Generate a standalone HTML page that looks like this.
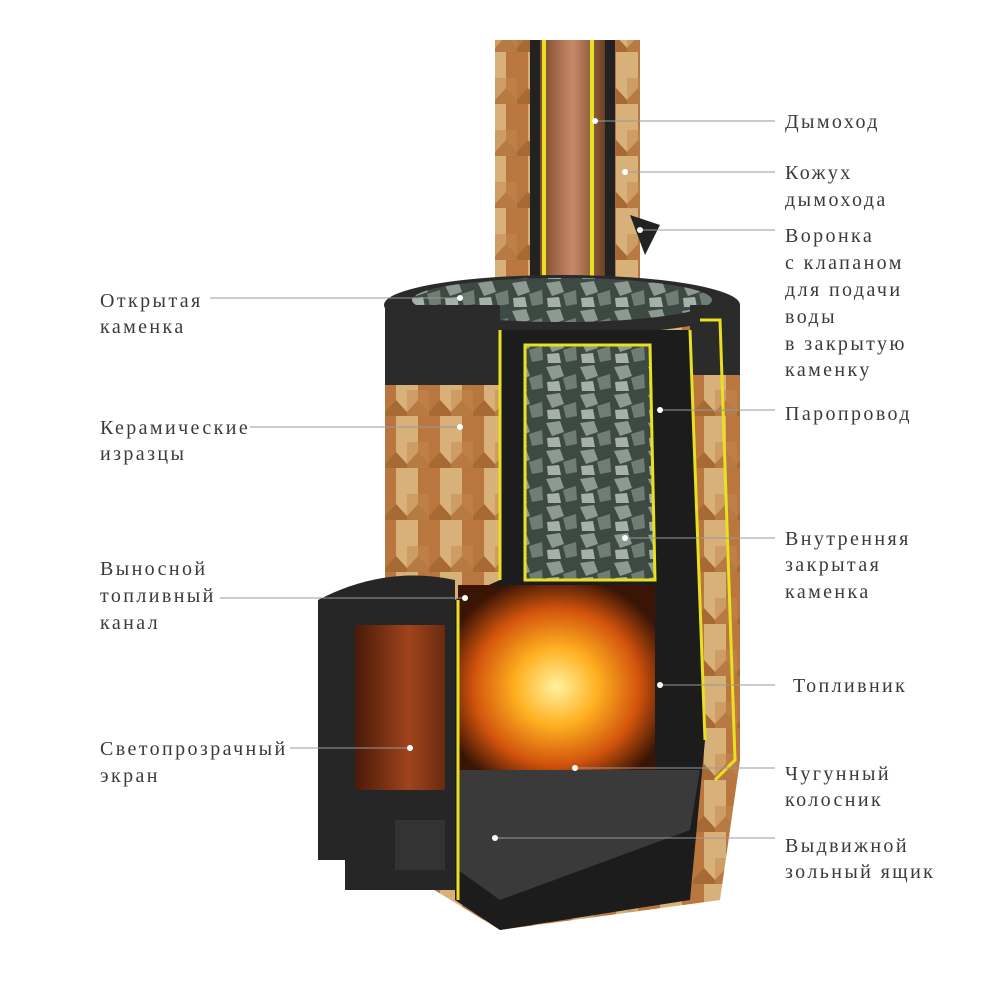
<!DOCTYPE html>
<html><head><meta charset="utf-8"><style>
html,body{margin:0;padding:0;background:#fff;width:1000px;height:1000px;overflow:hidden}
svg{display:block}
text{font-family:"Liberation Serif",serif;font-size:20px;letter-spacing:2.4px;fill:#3a3a3a}
</style></head><body>
<svg width="1000" height="1000" viewBox="0 0 1000 1000">
<defs>
<linearGradient id="chim" x1="0" x2="1"><stop offset="0" stop-color="#7a4a2a"/><stop offset="0.5" stop-color="#c8896a"/><stop offset="1" stop-color="#6b3f22"/></linearGradient>
<radialGradient id="fire" cx="0.5" cy="0.55" r="0.6"><stop offset="0" stop-color="#fff2a0"/><stop offset="0.35" stop-color="#ffb020"/><stop offset="0.7" stop-color="#d2540c"/><stop offset="1" stop-color="#3a1505"/></radialGradient>
<linearGradient id="glass" x1="0" x2="1"><stop offset="0" stop-color="#4a1a0a"/><stop offset="0.6" stop-color="#a0441c"/><stop offset="1" stop-color="#6a2a10"/></linearGradient>
<pattern id="stones" width="34" height="28" patternUnits="userSpaceOnUse"><rect width="34" height="28" fill="#3d4a44"/><path d="M2 3 L16 1 L20 12 L8 16 Z" fill="#8d9a92"/><path d="M19 14 L32 10 L33 24 L22 26 Z" fill="#6f7d75"/><path d="M3 18 L15 17 L17 27 L4 27 Z" fill="#a6b1aa"/></pattern>
<pattern id="scales" width="44" height="52" patternUnits="userSpaceOnUse"><rect width="44" height="52" fill="#a86a35"/><path d="M0 0 L22 0 L22 36 L11 48 L0 36 Z" fill="#d8b07a"/><path d="M22 0 L44 0 L44 36 L33 48 L22 36 Z" fill="#b9763e"/><path d="M11 26 L33 26 L33 52 L11 52 Z" fill="#c48a50" opacity="0.5"/></pattern>
</defs>
<rect width="1000" height="1000" fill="#fff"/>
<rect x="495" y="40" width="145" height="300" fill="url(#scales)"/>
<rect x="540" y="40" width="65" height="300" fill="url(#chim)"/>
<rect x="530" y="40" width="10" height="300" fill="#222"/>
<rect x="605" y="40" width="10" height="300" fill="#222"/>
<rect x="590" y="40" width="4" height="300" fill="#e8e020"/>
<rect x="542" y="40" width="4" height="300" fill="#e8e020"/>
<path d="M630 215 L660 225 L645 255 Z" fill="#222"/>
<path d="M385 310 Q560 270 740 310 L740 760 L720 900 L500 930 L385 860 Z" fill="url(#scales)"/>
<ellipse cx="562" cy="305" rx="178" ry="30" fill="#2a2a2a"/>
<ellipse cx="562" cy="300" rx="150" ry="22" fill="url(#stones)"/>
<rect x="385" y="305" width="115" height="80" fill="#2b2b2b"/>
<rect x="690" y="305" width="50" height="70" fill="#2b2b2b"/>
<path d="M500 330 L690 330 L705 740 L690 900 L500 930 L455 900 L455 600 L500 580 Z" fill="#1c1c1c"/>
<path d="M525 345 L650 345 L655 580 L525 580 Z" fill="url(#stones)"/>
<path d="M525 345 L650 345 L655 580 L525 580 Z" fill="none" stroke="#e8e020" stroke-width="3"/>
<path d="M458 585 L655 585 L655 770 L458 770 Z" fill="url(#fire)"/>
<path d="M458 770 L700 770 L690 830 L500 900 L458 870 Z" fill="#3a3a3a"/>
<path d="M500 330 L500 580 M690 330 L705 740 M458 600 L458 900" stroke="#e8e020" stroke-width="3" fill="none"/>
<path d="M700 320 L720 320 L735 760 L715 780" stroke="#e8e020" stroke-width="3" fill="none"/>
<path d="M318 600 Q385 565 455 580 L455 890 L345 890 L345 860 L318 860 Z" fill="#262626"/>
<rect x="355" y="625" width="90" height="165" fill="url(#glass)"/>
<rect x="395" y="820" width="50" height="50" fill="#333"/>
<g stroke="#999" stroke-width="1">
<line x1="595" y1="121" x2="775" y2="121"/>
<line x1="625" y1="172" x2="775" y2="172"/>
<line x1="640" y1="230" x2="775" y2="230"/>
<line x1="660" y1="410" x2="775" y2="410"/>
<line x1="625" y1="538" x2="775" y2="538"/>
<line x1="660" y1="685" x2="775" y2="685"/>
<line x1="575" y1="768" x2="775" y2="768"/>
<line x1="495" y1="838" x2="775" y2="838"/>
<line x1="210" y1="298" x2="460" y2="298"/>
<line x1="250" y1="427" x2="460" y2="427"/>
<line x1="220" y1="598" x2="465" y2="598"/>
<line x1="290" y1="748" x2="410" y2="748"/>
</g>
<g fill="#fff">
<circle cx="595" cy="121" r="3"/><circle cx="625" cy="172" r="3"/><circle cx="640" cy="230" r="3"/><circle cx="660" cy="410" r="3"/><circle cx="625" cy="538" r="3"/><circle cx="660" cy="685" r="3"/><circle cx="575" cy="768" r="3"/><circle cx="495" cy="838" r="3"/><circle cx="460" cy="298" r="3"/><circle cx="460" cy="427" r="3"/><circle cx="465" cy="598" r="3"/><circle cx="410" cy="748" r="3"/>
</g>
<text x="785" y="128">Дымоход</text>
<text x="785" y="179">Кожух</text><text x="785" y="206">дымохода</text>
<text x="785" y="242">Воронка</text><text x="785" y="269">с клапаном</text><text x="785" y="296">для подачи</text><text x="785" y="323">воды</text><text x="785" y="350">в закрытую</text><text x="785" y="376">каменку</text>
<text x="785" y="420">Паропровод</text>
<text x="785" y="545">Внутренняя</text><text x="785" y="571">закрытая</text><text x="785" y="598">каменка</text>
<text x="793" y="692">Топливник</text>
<text x="785" y="780">Чугунный</text><text x="785" y="806">колосник</text>
<text x="785" y="852">Выдвижной</text><text x="785" y="878">зольный ящик</text>
<text x="100" y="307">Открытая</text><text x="100" y="333">каменка</text>
<text x="100" y="434">Керамические</text><text x="100" y="460">изразцы</text>
<text x="100" y="575">Выносной</text><text x="100" y="602">топливный</text><text x="100" y="629">канал</text>
<text x="100" y="755">Светопрозрачный</text><text x="100" y="782">экран</text>
</svg>
</body></html>
